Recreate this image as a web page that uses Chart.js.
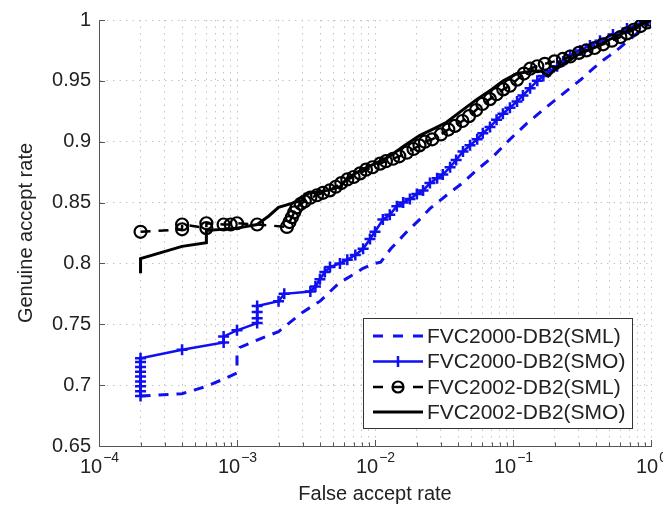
<!DOCTYPE html>
<html>
<head>
<meta charset="utf-8">
<script src="https://cdn.jsdelivr.net/npm/chart.js@4.4.1/dist/chart.umd.min.js"></script>
<style>
  html, body { margin: 0; padding: 0; background: #fff; }
  canvas { display: block; }
</style>
</head>
<body>
<canvas id="c" width="663" height="513"></canvas>
<script>
// ---------- DATA ----------
const seriesLabels = ['FVC2000-DB2(SML)', 'FVC2000-DB2(SMO)', 'FVC2002-DB2(SML)', 'FVC2002-DB2(SMO)'];

// FVC2000-DB2 (SML) – blue dashed
const far2000SML = [2e-4,4e-4,6e-4,8e-4,1e-3,1e-3,1.05e-3,1.4e-3,2e-3,3e-3,4e-3,5.5e-3,7e-3,8.2e-3,1e-2,1.1e-2,1.3e-2,1.7e-2,2.1e-2,2.5e-2,3.3e-2,4.3e-2,5.5e-2,7.2e-2,9.5e-2,0.126,0.177,0.246,0.31,0.38,0.45,0.55,0.7,0.85,1];
const gar2000SML = [0.691,0.693,0.699,0.705,0.710,0.727,0.731,0.737,0.744,0.760,0.769,0.784,0.791,0.796,0.800,0.801,0.812,0.826,0.836,0.845,0.856,0.866,0.877,0.888,0.902,0.915,0.929,0.942,0.951,0.960,0.967,0.974,0.984,0.992,1];

// FVC2000-DB2 (SMO) – blue solid with +
const far2000SMO = [2e-4,2e-4,2e-4,2e-4,2e-4,2e-4,2e-4,2e-4,2e-4,4e-4,8e-4,8e-4,1e-3,1.4e-3,1.4e-3,1.4e-3,1.4e-3,2e-3,2.2e-3,3.4e-3,3.7e-3,3.99e-3,4.33e-3,4.72e-3,5.57e-3,6.3e-3,7.2e-3,8.2e-3,9.2e-3,1e-2,1.14e-2,1.28e-2,1.44e-2,1.6e-2,1.79e-2,2.01e-2,2.23e-2,2.5e-2,2.82e-2,3.1e-2,3.5e-2,3.87e-2,4.34e-2,4.88e-2,5.5e-2,6.04e-2,6.81e-2,7.6e-2,8.45e-2,9.5e-2,0.107,0.118,0.133,0.15,0.166,0.185,0.209,0.231,0.259,0.306,0.361,0.427,0.53,0.67,0.832,1];
const gar2000SMO = [0.691,0.695,0.699,0.703,0.707,0.711,0.715,0.719,0.722,0.729,0.735,0.740,0.745,0.751,0.755,0.760,0.765,0.769,0.775,0.777,0.781,0.787,0.793,0.797,0.800,0.803,0.807,0.812,0.820,0.826,0.836,0.840,0.847,0.850,0.853,0.857,0.860,0.866,0.870,0.873,0.879,0.885,0.892,0.897,0.902,0.907,0.912,0.918,0.923,0.928,0.933,0.938,0.944,0.950,0.954,0.958,0.962,0.966,0.971,0.975,0.979,0.983,0.988,0.993,0.997,1];

// FVC2002-DB2 (SML) – black dashed with circles
const far2002SML = [2e-4,4e-4,4e-4,6e-4,6e-4,8e-4,9e-4,1e-3,1.4e-3,2.3e-3,2.4e-3,2.5e-3,2.6e-3,2.7e-3,2.9e-3,3.1e-3,3.4e-3,3.8e-3,4.2e-3,4.7e-3,5.2e-3,5.7e-3,6.3e-3,7e-3,7.8e-3,8.6e-3,9.6e-3,1.09e-2,1.2e-2,1.35e-2,1.5e-2,1.7e-2,1.9e-2,2.1e-2,2.3e-2,2.6e-2,3e-2,3.4e-2,3.8e-2,4.3e-2,4.8e-2,5.4e-2,6e-2,6.8e-2,7.6e-2,8.5e-2,9.5e-2,0.107,0.12,0.133,0.15,0.17,0.2,0.23,0.26,0.3,0.34,0.39,0.45,0.52,0.6,0.67,0.75,0.84,0.94,1];
const gar2002SML = [0.826,0.828,0.832,0.829,0.833,0.832,0.832,0.833,0.832,0.830,0.834,0.838,0.842,0.846,0.849,0.851,0.854,0.856,0.858,0.860,0.863,0.866,0.869,0.871,0.874,0.877,0.879,0.882,0.884,0.886,0.888,0.891,0.894,0.897,0.900,0.902,0.906,0.910,0.913,0.917,0.921,0.926,0.931,0.935,0.939,0.943,0.946,0.951,0.956,0.960,0.962,0.964,0.966,0.968,0.970,0.973,0.975,0.977,0.980,0.983,0.986,0.989,0.992,0.995,0.998,1];

// FVC2002-DB2 (SMO) – black solid
const far2002SMO = [2e-4,2e-4,4e-4,6e-4,6e-4,1e-3,1.4e-3,1.7e-3,2e-3,2.6e-3,3e-3,3.1e-3,4.5e-3,5.6e-3,6.3e-3,8e-3,1e-2,1.28e-2,1.6e-2,2.1e-2,2.7e-2,3.3e-2,4.3e-2,5.5e-2,7e-2,8.5e-2,0.107,0.14,0.16,0.18,0.2,0.25,0.3,0.4,0.5,0.65,0.8,1];
const gar2002SMO = [0.792,0.804,0.814,0.817,0.827,0.829,0.832,0.839,0.846,0.850,0.852,0.857,0.860,0.863,0.870,0.877,0.882,0.888,0.896,0.905,0.911,0.916,0.926,0.935,0.943,0.950,0.956,0.958,0.958,0.954,0.959,0.966,0.972,0.978,0.984,0.990,0.995,1];

// Tick labels
const xMajorValues = [1e-4, 1e-3, 1e-2, 1e-1, 1];
const xTickBase = '10';
const xTickExponents = ['\u22124', '\u22123', '\u22122', '\u22121', '0'];
const yTickLabels = ['0.65', '0.7', '0.75', '0.8', '0.85', '0.9', '0.95', '1'];
const xTitle = 'False accept rate';
const yTitle = 'Genuine accept rate';

// ---------- STYLE ----------
const FONT = "'Liberation Sans', Arial, Helvetica, sans-serif";
const BLUE = 'rgb(15,15,240)';
const BLACK = '#000';
const AXIS = '#555';
const TEXT = '#222';
const GRID = '#c4c4c4';

function pts(xs, ys) { return xs.map((x, i) => ({ x: x, y: ys[i] })); }

const datasets = [
  { label: seriesLabels[0], data: pts(far2000SML, gar2000SML), borderColor: BLUE, borderWidth: 3,
    borderDash: [10, 8], pointRadius: 0, order: 4, legendDash: [10, 10], marker: null },
  { label: seriesLabels[1], data: pts(far2000SMO, gar2000SMO), borderColor: BLUE, borderWidth: 2.5,
    pointStyle: 'cross', pointRadius: 5.5, pointBorderWidth: 2.5, pointBorderColor: BLUE, order: 3, legendDash: [], marker: 'cross' },
  { label: seriesLabels[2], data: pts(far2002SML, gar2002SML), borderColor: BLACK, borderWidth: 2.5,
    borderDash: [10, 8], pointStyle: 'circle', pointRadius: 6, pointBorderWidth: 2.2, pointBorderColor: BLACK,
    pointBackgroundColor: 'rgba(0,0,0,0)', order: 2, legendDash: [10, 10], marker: 'circle' },
  { label: seriesLabels[3], data: pts(far2002SMO, gar2002SMO), borderColor: BLACK, borderWidth: 3,
    pointRadius: 0, order: 1, legendDash: [], marker: null }
];

const decor = {
  id: 'decor',
  afterDraw(chart) {
    const ctx = chart.ctx, xs = chart.scales.x, ys = chart.scales.y, a = chart.chartArea;
    ctx.save();
    // inward ticks
    ctx.strokeStyle = AXIS; ctx.lineWidth = 1; ctx.setLineDash([]);
    xs.ticks.forEach(t => {
      const px = Math.round(xs.getPixelForValue(t.value)) + 0.5;
      const major = xMajorValues.some(v => Math.abs(Math.log10(v) - Math.log10(t.value)) < 1e-9);
      const len = major ? 6 : 3.5;
      ctx.beginPath(); ctx.moveTo(px, a.bottom); ctx.lineTo(px, a.bottom - len); ctx.stroke();
    });
    ys.ticks.forEach(t => {
      const py = Math.round(ys.getPixelForValue(t.value)) + 0.5;
      ctx.beginPath(); ctx.moveTo(a.left, py); ctx.lineTo(a.left + 6, py); ctx.stroke();
    });
    // x tick labels 10^n
    ctx.fillStyle = TEXT; ctx.textBaseline = 'alphabetic'; ctx.textAlign = 'left';
    xMajorValues.forEach((v, i) => {
      const px = xs.getPixelForValue(v);
      ctx.font = '20px ' + FONT;
      const wb = ctx.measureText(xTickBase).width;
      ctx.font = '14px ' + FONT;
      const we = ctx.measureText(xTickExponents[i]).width;
      const x0 = px - (wb + we) / 2;
      ctx.font = '20px ' + FONT;
      ctx.fillText(xTickBase, x0, 473);
      ctx.font = '14px ' + FONT;
      ctx.fillText(xTickExponents[i], x0 + wb + 1, 462);
    });
    // legend
    const lx = 363, ly = 318, lw = 269, lh = 110;
    ctx.fillStyle = '#fff';
    ctx.fillRect(lx, ly, lw, lh);
    ctx.strokeStyle = '#333'; ctx.lineWidth = 1;
    ctx.strokeRect(lx + 0.5, ly + 0.5, lw, lh);
    const rows = [336, 361.5, 387, 412];
    chart.data.datasets.forEach((d, i) => {
      const y = rows[i];
      ctx.save();
      ctx.strokeStyle = d.borderColor; ctx.lineWidth = d.borderWidth;
      ctx.setLineDash(d.legendDash);
      ctx.beginPath(); ctx.moveTo(373, y); ctx.lineTo(423, y); ctx.stroke();
      ctx.setLineDash([]);
      if (d.marker === 'cross') {
        ctx.lineWidth = 2.5;
        ctx.beginPath(); ctx.moveTo(398, y - 5.5); ctx.lineTo(398, y + 5.5); ctx.stroke();
      } else if (d.marker === 'circle') {
        ctx.lineWidth = 2.2;
        ctx.beginPath(); ctx.arc(398, y, 5.5, 0, Math.PI * 2); ctx.stroke();
      }
      ctx.restore();
      ctx.fillStyle = TEXT; ctx.font = '21px ' + FONT; ctx.textBaseline = 'middle'; ctx.textAlign = 'left';
      ctx.fillText(d.label, 427, y + 1);
    });
    ctx.restore();
  }
};

new Chart(document.getElementById('c'), {
  type: 'line',
  data: { datasets: datasets },
  plugins: [decor],
  options: {
    responsive: false,
    animation: false,
    events: [],
    layout: { padding: { top: 16, right: 12, left: 0, bottom: 0 } },
    elements: { line: { tension: 0, fill: false } },
    plugins: { legend: { display: false }, tooltip: { enabled: false } },
    scales: {
      x: {
        type: 'logarithmic', min: 1e-4, max: 1,
        afterBuildTicks: (s) => {
          const t = [];
          for (let e = -4; e < 0; e++) for (let m = 1; m < 10; m++) t.push({ value: m * Math.pow(10, e) });
          t.push({ value: 1 });
          s.ticks = t;
        },
        afterFit: (s) => { s.height = 67; },
        ticks: { display: false },
        grid: { color: GRID, lineWidth: 1, drawTicks: false },
        border: { display: true, color: AXIS, width: 1, dash: [1.5, 5] },
        title: { display: true, text: xTitle, color: TEXT, font: { family: FONT, size: 20 }, padding: { top: 0, bottom: 7 } }
      },
      y: {
        type: 'linear', min: 0.65, max: 1,
        ticks: { stepSize: 0.05, padding: 8, color: TEXT, font: { family: FONT, size: 20 },
                 callback: (v, i) => yTickLabels[i] },
        afterFit: (s) => { s.width = 99; },
        grid: { color: GRID, lineWidth: 1, drawTicks: false },
        border: { display: true, color: AXIS, width: 1, dash: [1.5, 5] },
        title: { display: true, text: yTitle, color: TEXT, font: { family: FONT, size: 20 }, padding: { top: 14, bottom: 0 } }
      }
    }
  }
});
</script>
</body>
</html>
